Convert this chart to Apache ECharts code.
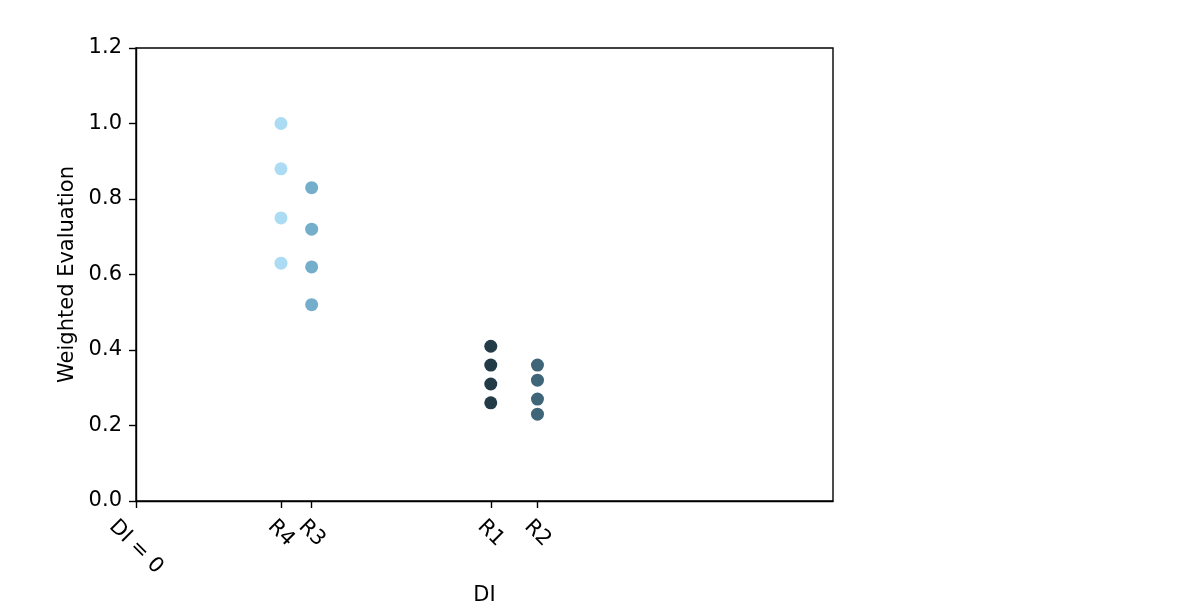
<!DOCTYPE html>
<html><head><meta charset="utf-8">
<script src="https://cdn.jsdelivr.net/npm/echarts@6/dist/echarts.min.js"></script>
<style>html,body{margin:0;padding:0;background:#fff}#c{width:1196px;height:603px}</style>
</head><body><div id="c"></div>
<script>
// ---- data ----
const tickLabels = ['DI = 0', 'R4', 'R3', 'R1', 'R2'];
const tickValues = [0, 0.208, 0.252, 0.509, 0.576];
const seriesNames = ['R4', 'R3', 'R1', 'R2'];
const seriesX = [0.208, 0.252, 0.509, 0.576];
const r4Values = [1.00, 0.88, 0.75, 0.63];
const r3Values = [0.83, 0.72, 0.62, 0.52];
const r1Values = [0.41, 0.36, 0.31, 0.26];
const r2Values = [0.36, 0.32, 0.27, 0.23];
const yTickValues = [0, 0.2, 0.4, 0.6, 0.8, 1.0, 1.2];
const colors = ['#abdcf3', '#74aecb', '#233a47', '#3f6579'];
const yName = 'Weighted Evaluation';
const xName = 'DI';

// ---- layout ----
const FONT = 'DejaVu Sans';
const F = 21;
const cv = document.createElement('canvas').getContext('2d');
cv.font = F + 'px "' + FONT + '"';
const rich = {};
tickLabels.forEach((lab, i) => {
  const L = cv.measureText(lab).width;
  const t = (17 + (L + 0.73 * F) / (2 * Math.SQRT2)) / Math.SQRT2;
  rich['l' + i] = { fontSize: F, fontFamily: FONT, color: '#000', padding: [2 * t, 0, 0, 2 * t] };
});

const allY = [r4Values, r3Values, r1Values, r2Values];
const series = seriesNames.map((n, i) => ({
  name: n, type: 'scatter', symbolSize: 13,
  itemStyle: { color: colors[i], opacity: 1 },
  data: allY[i].map(v => [seriesX[i], v])
}));

const chart = echarts.init(document.getElementById('c'));
chart.setOption({
  animation: false,
  backgroundColor: '#fff',
  grid: { left: 136, right: 363, top: 48, bottom: 102, outerBoundsMode: 'none', containLabel: false,
          show: true, borderColor: '#000', borderWidth: 1.4, backgroundColor: 'transparent' },
  xAxis: {
    type: 'value', min: 0, max: 1,
    name: xName, nameLocation: 'middle', nameGap: 83,
    nameTextStyle: { fontSize: F, fontFamily: FONT, color: '#000' },
    axisLine: { show: true, onZero: false, lineStyle: { color: '#000', width: 1.4 } },
    axisTick: { show: true, length: 7, lineStyle: { color: '#000', width: 1.4 }, customValues: tickValues },
    splitLine: { show: false },
    axisLabel: {
      customValues: tickValues, rotate: -45, align: 'center', verticalAlign: 'middle', margin: 0,
      hideOverlap: false, showMinLabel: true,
      formatter: function (v) {
        let idx = 0, best = 1e9;
        tickValues.forEach((tv, i) => { const d = Math.abs(tv - v); if (d < best) { best = d; idx = i; } });
        return '{l' + idx + '|' + tickLabels[idx] + '}';
      },
      rich: rich
    }
  },
  yAxis: {
    type: 'value', min: 0, max: 1.2, interval: 0.2,
    name: yName, nameLocation: 'middle', nameGap: 56,
    nameTextStyle: { fontSize: F, fontFamily: FONT, color: '#000' },
    axisLine: { show: true, onZero: false, lineStyle: { color: '#000', width: 1.4 } },
    axisTick: { show: true, length: 7, lineStyle: { color: '#000', width: 1.4 } },
    splitLine: { show: false },
    axisLabel: { fontSize: F, fontFamily: FONT, color: '#000', margin: 14, formatter: v => v.toFixed(1) }
  },
  series: series
});
</script>
</body></html>
